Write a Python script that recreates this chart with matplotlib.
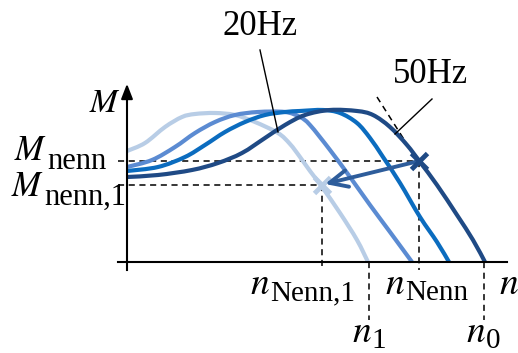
import numpy as np
import matplotlib.pyplot as plt
from matplotlib.path import Path
from matplotlib.patches import PathPatch

plt.rcParams['font.family'] = ['Liberation Serif', 'DejaVu Serif']
plt.rcParams['mathtext.fontset'] = 'stix'

# speed n and torque M (arbitrary units)
n_light = [0.00, 0.18, 0.38, 0.55, 0.68, 0.88, 1.08, 1.28, 1.51, 1.63, 1.73, 1.83, 1.95, 2.13, 2.30, 2.41]
M_light = [1.11, 1.19, 1.35, 1.45, 1.48, 1.49, 1.47, 1.40, 1.29, 1.18, 1.05, 0.91, 0.75, 0.49, 0.22, 0.00]

n_mid = [0.00, 0.25, 0.48, 0.68, 0.88, 1.08, 1.31, 1.58, 1.73, 1.83, 2.03, 2.23, 2.43, 2.63, 2.85]
M_mid = [0.95, 1.02, 1.15, 1.29, 1.40, 1.47, 1.50, 1.50, 1.45, 1.37, 1.12, 0.85, 0.57, 0.30, 0.00]

n_blue = [0.00, 0.31, 0.58, 0.78, 0.98, 1.18, 1.38, 1.58, 1.73, 1.96, 2.13, 2.30, 2.43, 2.56, 2.73, 2.93, 3.10, 3.22]
M_blue = [0.91, 0.95, 1.05, 1.17, 1.30, 1.40, 1.47, 1.50, 1.51, 1.52, 1.49, 1.39, 1.24, 1.05, 0.79, 0.45, 0.20, 0.00]

n_dark = [0.00, 0.31, 0.65, 0.91, 1.15, 1.38, 1.58, 1.78, 2.03, 2.30, 2.46, 2.63, 2.80, 2.93, 3.10, 3.30, 3.46, 3.58]
M_dark = [0.85, 0.87, 0.92, 0.99, 1.09, 1.24, 1.37, 1.47, 1.52, 1.51, 1.47, 1.35, 1.17, 1.00, 0.77, 0.47, 0.22, 0.00]

curve_colors = ['#b8cde6', '#5b8bd2', '#0b6cbf', '#1f4a85']

n_nenn, M_nenn = 2.92, 1.01
n_nenn1, M_nenn1 = 1.95, 0.77
n_1, n_0 = 2.42, 3.57


def smooth_path(xs, ys):
    # catmull-rom through the read points, as cubic bezier segments
    P = np.column_stack([xs, ys])
    verts, codes = [P[0]], [Path.MOVETO]
    for i in range(len(P) - 1):
        p0 = P[i - 1] if i > 0 else P[i]
        p3 = P[i + 2] if i + 2 < len(P) else P[i + 1]
        verts += [P[i] + (P[i + 1] - p0) / 6, P[i + 1] - (p3 - P[i]) / 6, P[i + 1]]
        codes += [Path.CURVE4] * 3
    return Path(verts, codes)


def px(x, y):
    # picture pixel -> data units
    return (x - 127) / 100, (262 - y) / 100


fig = plt.figure(figsize=(5.18, 3.53), dpi=100)
ax = fig.add_axes([0, 0, 1, 1])
ax.set_xlim(-1.27, 3.91)
ax.set_ylim(-0.91, 2.62)
ax.axis('off')

for (n, M), c in zip([(n_light, M_light), (n_mid, M_mid), (n_blue, M_blue), (n_dark, M_dark)], curve_colors):
    ax.add_patch(PathPatch(smooth_path(n, M), fill=False, edgecolor=c, lw=3.0,
                           capstyle='butt', zorder=3))

dash = dict(color='black', lw=1.1, ls=(0, (4, 3)), zorder=2)
ax.plot([-0.09, n_nenn], [M_nenn, M_nenn], **dash)
ax.plot([-0.09, n_nenn1], [M_nenn1, M_nenn1], **dash)
ax.plot([n_nenn, n_nenn], [M_nenn, -0.08], **dash)
ax.plot([n_nenn1, n_nenn1], [M_nenn1, -0.08], **dash)
ax.plot([n_1, n_1], [0, -0.58], **dash)
ax.plot([n_0, n_0], [0, -0.58], **dash)
# tangent at the 50Hz curve
ax.plot([2.50, 2.85], [1.65, 1.10], **dash)

# axes with arrows
head = '-|>,head_length=0.9,head_width=0.35'
ax.plot([0, 0], [-0.08, 1.70], color='black', lw=1.5, zorder=4)
ax.annotate('', xy=(0, 1.81), xytext=(0, 1.60),
            arrowprops=dict(arrowstyle=head, color='black', lw=1.5, mutation_scale=10), zorder=4)
ax.plot([-0.09, 3.80], [0, 0], color='black', lw=1.5, zorder=4)
ax.annotate('', xy=(3.93, 0), xytext=(3.70, 0),
            arrowprops=dict(arrowstyle=head, color='black', lw=1.5, mutation_scale=10), zorder=4)

# operating point shift
ax.annotate('', xy=(n_nenn1 + 0.03, M_nenn1 + 0.01), xytext=(n_nenn, M_nenn),
            arrowprops=dict(arrowstyle='->,head_length=1.3,head_width=0.6',
                            color='#2e5d9b', lw=2.8, mutation_scale=10,
                            shrinkA=0, shrinkB=0), zorder=6)
ax.plot([n_nenn], [M_nenn], marker='x', ms=11, mew=3.5, color='#1f4a85', zorder=7)
ax.plot([n_nenn1], [M_nenn1], marker='x', ms=11, mew=3.5, color='#b8cde6', zorder=5)

# leaders
ax.plot([1.33, 1.51], [2.12, 1.30], color='black', lw=1.0, zorder=5)
ax.plot([3.05, 2.68], [1.63, 1.28], color='black', lw=1.0, zorder=5)

renderer = fig.canvas.get_renderer()


def sym(x, y, main, sub=None, size=24, subsize=21, drop=8):
    t = ax.text(*px(x, y), '$' + main + '$', fontsize=size, ha='left', va='baseline')
    if sub:
        bb = t.get_window_extent(renderer)
        xs = ax.transData.inverted().transform((bb.x1, 0))[0]
        ax.text(xs, (262 - y - drop) / 100, sub, fontsize=subsize, ha='left', va='baseline')


ax.text(*px(222, 35), '20Hz', fontsize=25, ha='left', va='baseline')
ax.text(*px(393, 83), '50Hz', fontsize=25, ha='left', va='baseline')
sym(89, 112, 'M', size=24)
sym(14, 160, 'M', 'nenn', size=25, subsize=22, drop=9)
sym(11, 196, 'M', 'nenn,1', size=25, subsize=22, drop=9)
sym(250, 294, 'n', 'Nenn,1', size=27, subsize=21, drop=6)
sym(385, 294, 'n', 'Nenn', size=27, subsize=21, drop=6)
sym(352, 342, 'n', '1', size=27, subsize=21, drop=6)
sym(466, 342, 'n', '0', size=27, subsize=21, drop=6)
sym(499, 294, 'n', size=27)

fig.savefig('out.png', dpi=100)
